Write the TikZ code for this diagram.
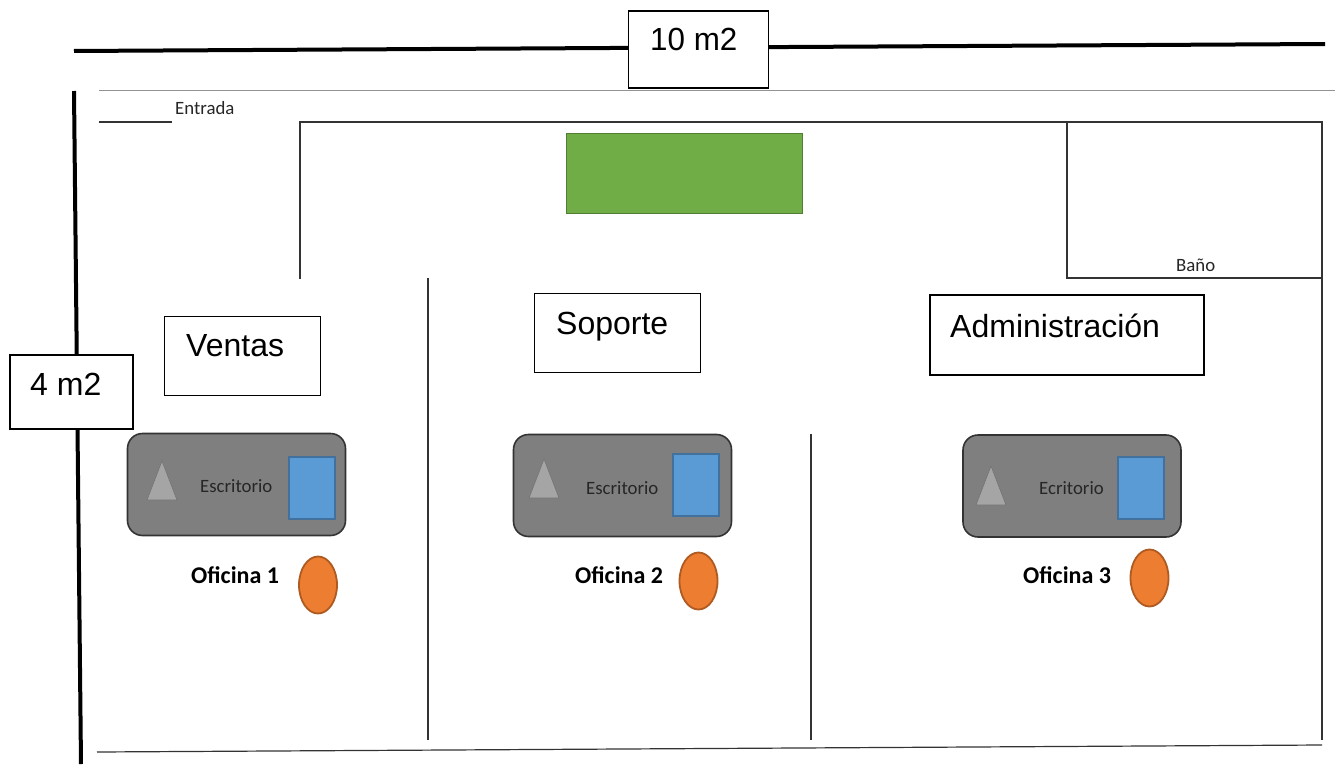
\documentclass[tikz,border=0pt]{standalone}
\usepackage{fontspec}
\setmainfont{Liberation Sans}
\newfontfamily\carl{Carlito}
\usetikzlibrary{shapes.geometric}
\definecolor{deskgray}{HTML}{7F7F7F}
\definecolor{triGray}{HTML}{A5A5A5}
\definecolor{blueF}{HTML}{5B9BD5}
\definecolor{blueD}{HTML}{41719C}
\definecolor{orangeF}{HTML}{ED7D31}
\definecolor{orangeD}{HTML}{AE5A21}
\definecolor{greenF}{HTML}{70AD47}
\definecolor{greenD}{HTML}{507E32}
\definecolor{wallc}{HTML}{333333}
\tikzset{
 bigwall/.style={black,line width=4pt},
 wall/.style={wallc,line width=1.2pt},
 hair/.style={gray!85,line width=1pt},
 roombox/.style={draw=black,line width=1.8pt,fill=white,rectangle,inner sep=0pt},
 bigtext/.style={font=\fontsize{32}{36}\selectfont,inner sep=0pt,anchor=base west},
 smalltext/.style={font=\carl\fontsize{18.8}{22}\selectfont,inner sep=0pt,text=black!85,anchor=base west},
 desklabel/.style={font=\carl\fontsize{18.8}{22}\selectfont,inner sep=0pt,text=black!85,anchor=base west},
 officetext/.style={font=\carl\bfseries\fontsize{24}{28}\selectfont,inner sep=0pt,anchor=base west},
 desk/.style={draw=black!80,line width=1.6pt,fill=deskgray,rectangle,rounded corners=15pt,minimum width=218pt,minimum height=102pt,inner sep=0pt},
 tri/.style={fill=triGray,draw=gray!90!black,line width=0.6pt},
 chair/.style={fill=blueF,draw=blueD,line width=2.8pt,rectangle,minimum width=46pt,minimum height=62pt,inner sep=0pt},
 person/.style={fill=orangeF,draw=orangeD,line width=1.8pt,ellipse,minimum width=38pt,minimum height=57pt,inner sep=0pt},
}
\begin{document}
\begin{tikzpicture}[x=1pt,y=-1pt]
\useasboundingbox (0,0) rectangle (1335,765);
% dimension lines
\coordinate (topL) at (74,51); \coordinate (topR) at (1325,44);
\coordinate (leftT) at (74,91); \coordinate (leftB) at (81,764);
\draw[bigwall] (topL) -- (topR);
\draw[bigwall] (leftT) -- (leftB);
\node[roombox,minimum width=140pt,minimum height=77pt] (dimTop) at (698.5,49.5) {};
\node[bigtext,xscale=0.98] (dimTopT) at (650,51) {10 m2};
\node[roombox,minimum width=123pt,minimum height=74pt] (dimLeft) at (71.5,392) {};
\node[bigtext] (dimLeftT) at (30,395) {4 m2};
% plan outline
\coordinate (hT1) at (99,91); \coordinate (hT2) at (1335,91);
\draw[hair] (hT1) -- (hT2);
\coordinate (entA) at (99,122); \coordinate (entB) at (172,122);
\draw[wall] (entA) -- (entB);
\node[smalltext] (entrada) at (175,114) {Entrada};
\coordinate (a1) at (300,279); \coordinate (a2) at (300,122); \coordinate (a3) at (1322,122); \coordinate (a4) at (1322,740);
\draw[wall] (a1) -- (a2) -- (a3) -- (a4);
\coordinate (b1) at (1067,122); \coordinate (b2) at (1067,278); \coordinate (b3) at (1322,278);
\draw[wall] (b1) -- (b2) -- (b3);
\node[smalltext] (bano) at (1176,271) {Baño};
\coordinate (c1) at (428,278); \coordinate (c2) at (428,740);
\draw[wall] (c1) -- (c2);
\coordinate (d1) at (811,434); \coordinate (d2) at (811,740);
\draw[wall] (d1) -- (d2);
\coordinate (e1) at (97,752); \coordinate (e2) at (1322,745);
\draw[wall] (e1) -- (e2);
% reception
\node[fill=greenF,draw=greenD,line width=1.6pt,rectangle,minimum width=236pt,minimum height=80pt,inner sep=0pt] (green) at (684.5,173.5) {};
% rooms
\node[roombox,minimum width=156pt,minimum height=79pt] (v) at (242.5,356) {};
\node[bigtext] (vT) at (186,356) {Ventas};
\node[roombox,minimum width=166pt,minimum height=79pt] (s) at (617.5,333) {};
\node[bigtext] (sT) at (556,334) {Soporte};
\node[roombox,minimum width=274pt,minimum height=80pt] (a) at (1067,335) {};
\node[bigtext] (aT) at (950,337) {Administración};
% desks
\node[desk] (d1box) at (236.5,484.5) {};
\draw[tri] (147,500) -- (162,461) -- (177,500) -- cycle;
\node[desklabel] (d1t) at (200,492) {Escritorio};
\node[chair] (c1box) at (312,488) {};
\node[officetext] (o1) at (191,583) {Oficina 1};
\node[person] (p1) at (318,585) {};
\node[desk] (d2box) at (622.5,485.5) {};
\draw[tri] (529,498) -- (544,459) -- (559,498) -- cycle;
\node[desklabel] (d2t) at (586,494) {Escritorio};
\node[chair] (c2box) at (696,485) {};
\node[officetext] (o2) at (575,583) {Oficina 2};
\node[person] (p2) at (698.5,581) {};
\node[desk] (d3box) at (1072,486) {};
\draw[tri] (976,505) -- (991,466) -- (1006,505) -- cycle;
\node[desklabel] (d3t) at (1039,494) {Ecritorio};
\node[chair] (c3box) at (1141,488) {};
\node[officetext] (o3) at (1023,583) {Oficina 3};
\node[person] (p3) at (1149.5,578) {};
\end{tikzpicture}
\end{document}
